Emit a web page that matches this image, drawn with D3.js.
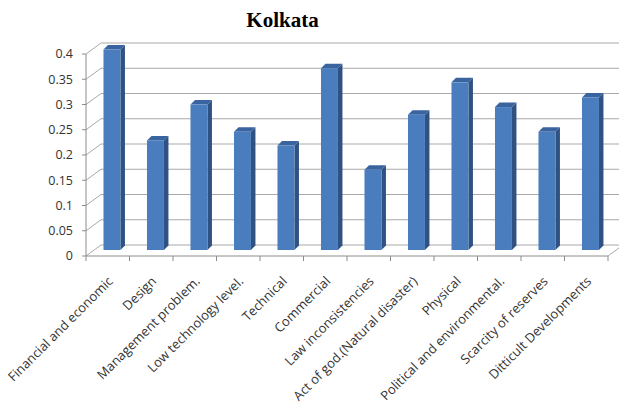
<!DOCTYPE html>
<html>
<head>
<meta charset="utf-8">
<script src="https://cdn.jsdelivr.net/npm/d3@7/dist/d3.min.js"></script>
<style>
  html, body { margin: 0; padding: 0; background: #ffffff; }
  svg { display: block; }
</style>
</head>
<body>
<div id="chart"></div>
<script>
const categories = [
  "Financial and economic",
  "Design",
  "Management problem.",
  "Low technology level.",
  "Technical",
  "Commercial",
  "Law inconsistencies",
  "Act of god.(Natural disaster)",
  "Physical",
  "Political and environmental.",
  "Scarcity of reserves",
  "Ditticult Developments"
];
const values = [0.397, 0.217, 0.288, 0.234, 0.207, 0.360, 0.159, 0.268, 0.332, 0.283, 0.234, 0.302];
const yTicks = [0, 0.05, 0.1, 0.15, 0.2, 0.25, 0.3, 0.35, 0.4];
const yTickLabels = ["0", "0.05", "0.1", "0.15", "0.2", "0.25", "0.3", "0.35", "0.4"];
const title = "Kolkata";

const W = 619, H = 403;
const svg = d3.select("#chart").append("svg").attr("width", W).attr("height", H);

const x = d3.scaleBand().domain(categories).range([86, 608]).paddingInner(0).paddingOuter(0);
const y = d3.scaleLinear().domain([0, 0.4]).range([256, 54]);

const depth = { dx: 15, dy: -11 };   // wall depth
const barPlane = { dx: 7, dy: -6 };  // bar front plane
const barSide = { dx: 4.5, dy: -4.5 };
const gridColor = "#a9a9a9";
const axisColor = "#8c8c8c";

// Title
svg.append("text")
  .attr("x", 282.5).attr("y", 27)
  .attr("text-anchor", "middle")
  .attr("font-family", "'Liberation Serif', 'Times New Roman', serif")
  .attr("font-weight", "bold")
  .attr("font-size", 21)
  .attr("fill", "#000")
  .text(title);

const g = svg.append("g");
const x0 = x.range()[0], x1 = x.range()[1];

// Back wall gridlines
g.selectAll("line.grid").data(yTicks).enter().append("line")
  .attr("class", "grid")
  .attr("x1", x0 + depth.dx).attr("x2", x1 + depth.dx)
  .attr("y1", d => y(d) + depth.dy).attr("y2", d => y(d) + depth.dy)
  .attr("stroke", gridColor).attr("stroke-width", 1);

// Left wall diagonals
g.selectAll("line.diag").data(yTicks).enter().append("line")
  .attr("class", "diag")
  .attr("x1", x0).attr("x2", x0 + depth.dx)
  .attr("y1", d => y(d)).attr("y2", d => y(d) + depth.dy)
  .attr("stroke", gridColor).attr("stroke-width", 1);

// Floor right edge
g.append("line")
  .attr("x1", x1).attr("y1", y(0))
  .attr("x2", x1 + depth.dx).attr("y2", y(0) + depth.dy)
  .attr("stroke", gridColor);

// Front left axis line
g.append("line")
  .attr("x1", x0).attr("x2", x0)
  .attr("y1", y(0)).attr("y2", y(0.4))
  .attr("stroke", axisColor);

// Left ticks
g.selectAll("line.ytick").data(yTicks).enter().append("line")
  .attr("x1", x0 - 4).attr("x2", x0)
  .attr("y1", d => y(d)).attr("y2", d => y(d))
  .attr("stroke", axisColor);

// Y tick labels
g.selectAll("text.ylab").data(yTicks).enter().append("text")
  .attr("x", 73).attr("y", d => y(d))
  .attr("dy", "0.35em")
  .attr("text-anchor", "end")
  .attr("font-family", "'Open Sans', sans-serif")
  .attr("font-size", 12.5)
  .attr("fill", "#333")
  .text((d, i) => yTickLabels[i]);

// Bars
const bw = x.bandwidth();
const faceW = bw * 0.39;
const faceOff = bw * 0.241;
const bars = g.selectAll("g.bar").data(values).enter().append("g").attr("class", "bar");

function fx(i) { return x(categories[i]) + faceOff + barPlane.dx; }
function fyTop(v) { return y(v) + barPlane.dy; }
const base = y(0) + barPlane.dy;

// side face
bars.append("path")
  .attr("d", (v, i) => {
    const l = fx(i) + faceW, t = fyTop(v);
    return `M${l},${base} L${l},${t} L${l + barSide.dx},${t + barSide.dy} L${l + barSide.dx},${base + barSide.dy} Z`;
  })
  .attr("fill", "#2f5282");
// top face
bars.append("path")
  .attr("d", (v, i) => {
    const l = fx(i), t = fyTop(v);
    return `M${l},${t} L${l + faceW},${t} L${l + faceW + barSide.dx},${t + barSide.dy} L${l + barSide.dx},${t + barSide.dy} Z`;
  })
  .attr("fill", "#3a64a0");
// front face
bars.append("rect")
  .attr("x", (v, i) => fx(i))
  .attr("y", v => fyTop(v))
  .attr("width", faceW)
  .attr("height", v => base - fyTop(v))
  .attr("fill", "#4a7dbd");

// Floor front edge
g.append("line")
  .attr("x1", x0).attr("x2", x1)
  .attr("y1", y(0)).attr("y2", y(0))
  .attr("stroke", axisColor);

// X ticks at band boundaries
const bounds = categories.map(c => x(c)).concat([x1]);
g.selectAll("line.xtick").data(bounds).enter().append("line")
  .attr("x1", d => d).attr("x2", d => d)
  .attr("y1", y(0)).attr("y2", y(0) + 5)
  .attr("stroke", axisColor);

// X labels
g.selectAll("text.xlab").data(categories).enter().append("text")
  .attr("transform", d => `translate(${x(d) + bw / 2 + 6},${282}) rotate(-45)`)
  .attr("text-anchor", "end")
  .attr("font-family", "'Open Sans', sans-serif")
  .attr("font-size", 13)
  .attr("fill", "#333")
  .text(d => d);
</script>
</body>
</html>
